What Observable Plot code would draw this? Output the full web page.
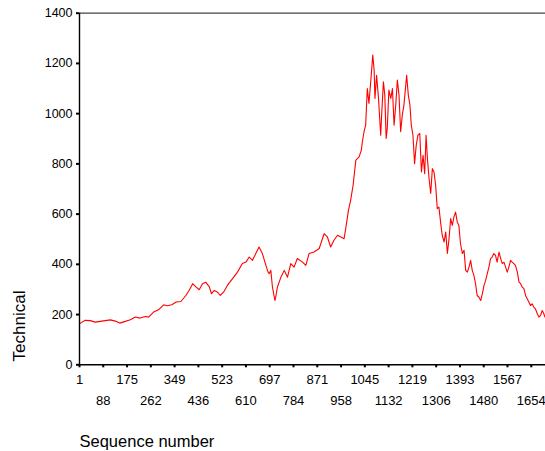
<!DOCTYPE html>
<html>
<head>
<meta charset="utf-8">
<script src="https://cdn.jsdelivr.net/npm/d3@7"></script>
<script src="https://cdn.jsdelivr.net/npm/@observablehq/plot@0.6"></script>
<style>
  html, body { margin: 0; padding: 0; background: #fff; }
  #chart svg { display: block; }
</style>
</head>
<body>
<div id="chart"></div>
<script>
const sequenceNumbers = [
  1,6,22,40,59,71,83,114,132,148,163,187,205,223,242,254,272,290,309,321,339,355,
  372,390,402,415,427,439,451,463,476,484,494,506,516,528,542,561,579,597,610,622,634,646,658,670,683,691,
  695,701,707,716,719,725,738,750,762,774,786,798,817,829,841,859,878,896,908,920,932,945,957,969,975,985,993,1002,1012,1024,1032,1036,1042,
  1048,1054,1060,1066,1074,1079,1082,1088,1095,1099,1103,1107,1113,1118,1123,1127,1133,1140,1146,1152,1158,1164,1170,1176,1182,1188,1198,1204,1210,1215,1221,1227,1233,1239,1246,1252,1258,1264,1269,1274,1280,1286,1292,1298,1304,1310,1316,1322,1328,1335,1341,1347,1353,1359,1365,1371,1377,1383,1389,
  1395,1402,1408,1414,1420,1426,1432,1438,1444,1450,1456,1462,1469,1475,1481,1487,1493,1499,1505,1511,1517,1523,1529,1536,1542,1548,1554,1560,1566,1572,1578,1584,1590,1596,1603,1609,1615,1621,1627,1633,1639,1645,1651,1657,1663,1669,1676,1682,1688,1694,1700,1704
];
const technicalValues = [
  163,167,177,176,170,172,174,179,174,166,171,179,190,186,192,190,210,219,239,235,239,250,
  252,276,296,323,310,299,323,329,310,283,296,289,276,289,316,343,369,403,409,429,416,443,469,443,396,369,
  363,376,309,256,270,309,349,376,349,403,389,423,409,396,443,449,463,522,509,469,496,516,509,502,542,615,655,715,815,828,854,888,928,
  954,1100,1041,1120,1233,1173,1061,1153,1061,987,914,1007,1127,1074,901,941,1094,1061,1100,954,1034,1134,1074,928,994,1034,1153,1074,1034,954,914,801,874,914,921,768,834,761,914,821,741,682,781,768,715,622,628,569,516,489,529,443,502,582,555,589,608,569,555,
  482,443,456,376,369,389,416,376,356,323,276,270,256,283,316,336,363,389,423,429,443,436,409,449,423,403,409,389,369,389,416,409,403,396,369,329,323,309,303,276,263,250,236,243,230,223,203,190,197,216,203,190
];
const xTicksTop = [1,175,349,523,697,871,1045,1219,1393,1567];
const xTicksBottom = [88,262,436,610,784,958,1132,1306,1480,1654];
const yTicks = [0,200,400,600,800,1000,1200,1400];
const xTitle = "Sequence number";
const yTitle = "Technical";

const data = sequenceNumbers.map((s, i) => ({seq: s, value: technicalValues[i]}));
const allXTicks = [...xTicksTop, ...xTicksBottom].sort((a, b) => a - b);
const fmt = d3.format("d");

const chart = Plot.plot({
  width: 545,
  height: 451,
  marginLeft: 79,
  marginRight: 0,
  marginTop: 12.7,
  marginBottom: 86.7,
  style: {fontFamily: "'Liberation Sans', Arial, sans-serif", background: "#fff", color: "#000"},
  x: {domain: [1, 1706]},
  y: {domain: [0, 1400]},
  marks: [
    Plot.ruleY([1400], {stroke: "#444", strokeWidth: 1.2}),
    Plot.axisY({ticks: yTicks, tickSize: 3, tickPadding: 4, fontSize: 12.5, strokeWidth: 2, tickFormat: fmt, label: null}),
    Plot.axisX({ticks: allXTicks, tickSize: 3, strokeWidth: 2, tickFormat: () => "", label: null}),
    Plot.axisX({ticks: xTicksTop, tickSize: 0, tickPadding: 10, fontSize: 13, tickFormat: fmt, label: null}),
    Plot.axisX({ticks: xTicksBottom, tickSize: 0, tickPadding: 31, fontSize: 13, tickFormat: fmt, label: null}),
    Plot.line(data, {x: "seq", y: "value", stroke: "#ff0000", strokeWidth: 1.1}),
    Plot.ruleX([1], {stroke: "#000", strokeWidth: 1.4}),
    Plot.ruleY([0], {stroke: "#000", strokeWidth: 1.4}),
    Plot.text([yTitle], {frameAnchor: "bottom-left", dx: -60, dy: -38.8, rotate: -90, textAnchor: "middle", lineAnchor: "middle", fontSize: 17, fill: "#000"}),
    Plot.text([xTitle], {frameAnchor: "bottom-left", dx: 0, dy: 77.2, textAnchor: "start", lineAnchor: "middle", fontSize: 16.5, fill: "#000"})
  ]
});
document.getElementById("chart").appendChild(chart);
</script>
</body>
</html>
